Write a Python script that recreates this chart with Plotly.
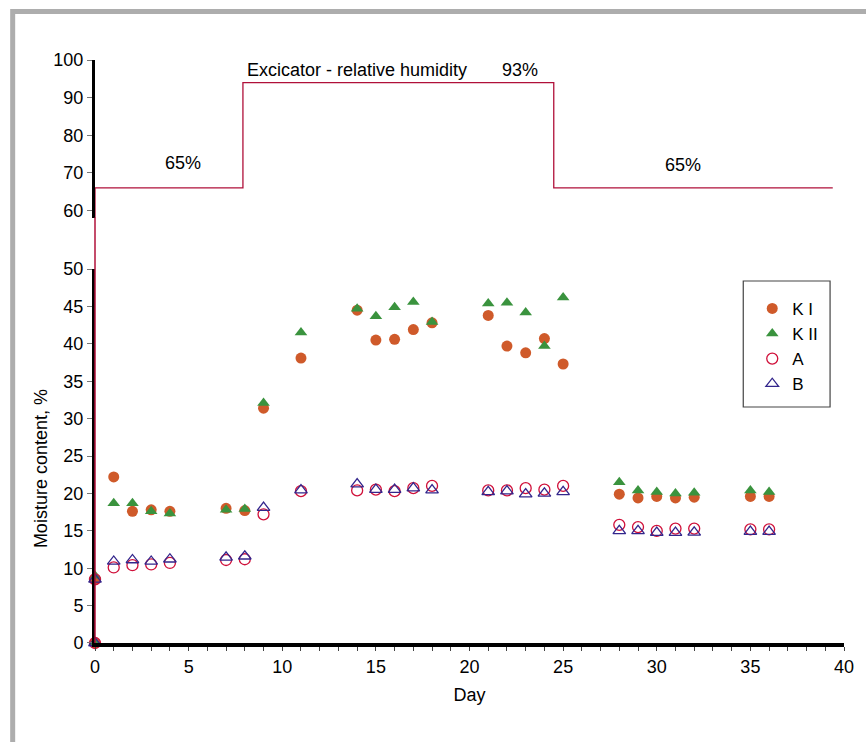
import plotly.graph_objects as go

# ---- data ----
days = [0, 0, 1, 2, 3, 4, 7, 8, 9, 11, 14, 15, 16, 17, 18, 21, 22, 23, 24, 25, 28, 29, 30, 31, 32, 35, 36]
KI = [0, 8.5, 22.2, 17.6, 17.8, 17.6, 18.0, 17.7, 31.4, 38.1, 44.5, 40.5, 40.6, 41.9, 42.8, 43.8, 39.7, 38.8,
      40.7, 37.3, 19.9, 19.4, 19.6, 19.4, 19.5, 19.6, 19.6]
KII = [0, 9.0, 18.7, 18.7, 17.6, 17.3, 17.8, 17.9, 32.1, 41.5, 44.7, 43.7, 44.9, 45.6, 42.9, 45.4, 45.5, 44.2,
       39.7, 46.2, 21.5, 20.4, 20.2, 20.0, 20.1, 20.4, 20.2]
A = [0, 8.5, 10.1, 10.4, 10.5, 10.7, 11.1, 11.2, 17.2, 20.3, 20.4, 20.5, 20.3, 20.7, 21.0, 20.4, 20.4, 20.7,
     20.5, 21.0, 15.8, 15.5, 15.0, 15.3, 15.3, 15.2, 15.2]
B = [0, 8.5, 10.9, 11.1, 10.9, 11.2, 11.45, 11.6, 18.1, 20.45, 21.25, 20.5, 20.5, 20.7, 20.45, 20.2, 20.3, 19.9,
     20.0, 20.2, 15.0, 15.0, 14.75, 14.75, 14.8, 14.9, 14.9]

humid_day = [0, 7.9, 7.9, 24.5, 24.5, 39.4]
humid_rh = [66, 66, 94, 94, 66, 66]

lower_range = [0, 50]
upper_range = [58, 100]
x_range = [0, 40]
x_ticks = [0, 5, 10, 15, 20, 25, 30, 35, 40]
upper_ticks = [60, 70, 80, 90, 100]

FONT = "Liberation Sans, Arial, sans-serif"
FS = 18
C_KI = "#CF5A2A"
C_KII = "#3A933E"
C_A = "#D0103A"
C_B = "#33268C"
C_STEP = "#B0103A"

fig = go.Figure()

# humidity step line on upper axis
fig.add_trace(go.Scatter(
    x=[humid_day[0]] + humid_day, y=[upper_range[0]] + humid_rh, yaxis="y2",
    mode="lines", line=dict(color=C_STEP, width=1.3),
    showlegend=False, hoverinfo="skip"))

# vertical connector of the step line down to the x axis (day 0 = left edge of x domain)
fig.add_shape(type="line", xref="x domain", yref="paper",
              x0=0, x1=0, y0=0, y1=0.73,
              line=dict(color=C_STEP, width=1.5), layer="above")

fig.add_trace(go.Scatter(x=days, y=KI, name="K I", mode="markers",
                         marker=dict(symbol="circle", size=11, color=C_KI), cliponaxis=False))
fig.add_trace(go.Scatter(x=days, y=KII, name="K II", mode="markers",
                         marker=dict(symbol="triangle-up", size=11, color=C_KII), cliponaxis=False))
fig.add_trace(go.Scatter(x=days, y=A, name="A", mode="markers",
                         marker=dict(symbol="circle-open", size=11, color=C_A, line=dict(width=1.3)),
                         cliponaxis=False))
fig.add_trace(go.Scatter(x=days, y=B, name="B", mode="markers",
                         marker=dict(symbol="triangle-up-open", size=11, color=C_B, line=dict(width=1.3)),
                         cliponaxis=False))

# grey frame
fig.add_shape(type="rect", xref="paper", yref="paper",
              x0=-0.1099, y0=1.0832, x1=1.2, y1=-0.3,
              line=dict(color="#ADADAD", width=5), fillcolor="rgba(0,0,0,0)", layer="above")

# legend box
fig.add_shape(type="rect", xref="paper", yref="paper",
              x0=0.8655, y0=0.6209, x1=0.9814, y1=0.4048,
              line=dict(color="#444", width=1.2), fillcolor="white", layer="below")

ann_font = dict(family=FONT, size=FS, color="black")
fig.add_annotation(x=4.7, y=72.6, xref="x", yref="y2", text="65%", showarrow=False, font=ann_font)
fig.add_annotation(x=8.0, y=97.3, xref="x", yref="y2", text="Excicator - relative humidity",
                   showarrow=False, font=ann_font, xanchor="left")
fig.add_annotation(x=22.7, y=97.3, xref="x", yref="y2", text="93%", showarrow=False, font=ann_font)
fig.add_annotation(x=31.4, y=72.1, xref="x", yref="y2", text="65%", showarrow=False, font=ann_font)

# y-axis title
fig.add_annotation(x=-0.0719, y=0.2985, xref="paper", yref="paper", text="Moisture content, %",
                   textangle=-90, showarrow=False, font=ann_font,
                   xanchor="center", yanchor="middle")

fig.update_layout(
    width=866, height=742,
    margin=dict(l=95, r=20, t=60, b=99),
    paper_bgcolor="white", plot_bgcolor="white",
    font=dict(family=FONT, size=FS, color="black"),
    xaxis=dict(range=x_range, showgrid=False, zeroline=False,
               showline=True, linecolor="black", linewidth=4,
               ticks="outside", ticklen=4, tickcolor="#444", tickwidth=1,
               tickvals=x_ticks,
               minor=dict(dtick=1, ticks="outside", ticklen=4, tickcolor="#444", tickwidth=1),
               title=dict(text="Day", standoff=14, font=dict(size=FS)),
               tickfont=dict(size=FS)),
    yaxis=dict(domain=[0, 0.6415], range=lower_range, showgrid=False, zeroline=False,
               showline=True, linecolor="black", linewidth=3,
               ticks="outside", ticklen=5, tickcolor="#777", tickwidth=1,
               dtick=5, tickfont=dict(size=FS)),
    yaxis2=dict(domain=[0.729, 1], range=upper_range, showgrid=False, zeroline=False,
                anchor="x",
                showline=True, linecolor="black", linewidth=3,
                ticks="outside", ticklen=5, tickcolor="#777", tickwidth=1,
                tickvals=upper_ticks, tickfont=dict(size=FS)),
    legend=dict(x=0.8775, y=0.604, xanchor="left", yanchor="top",
                borderwidth=0, bgcolor="rgba(0,0,0,0)",
                font=dict(family=FONT, size=17), itemwidth=30,
                tracegroupgap=0),
    showlegend=True,
)

fig.write_html("out.html", config={"displayModeBar": False},
               post_script="document.body.style.margin='0';")
